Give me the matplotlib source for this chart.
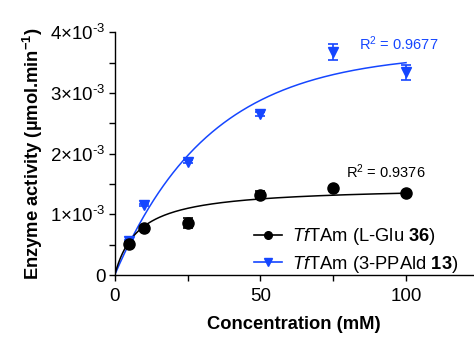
import numpy as np
import matplotlib.pyplot as plt
from matplotlib.ticker import FuncFormatter, MultipleLocator

plt.rcParams['font.family'] = 'Liberation Sans'
plt.rcParams['mathtext.fontset'] = 'custom'
plt.rcParams['mathtext.rm'] = 'Liberation Sans'
plt.rcParams['mathtext.it'] = 'Liberation Sans:italic'
plt.rcParams['mathtext.bf'] = 'Liberation Sans:bold'

# data (mM, umol/min)
conc = [5, 10, 25, 50, 75, 100]
glu_act = [0.52e-3, 0.77e-3, 0.86e-3, 1.32e-3, 1.43e-3, 1.35e-3]
glu_err = [0.02e-3, 0.02e-3, 0.08e-3, 0.07e-3, 0.02e-3, 0.02e-3]
ppald_act = [0.56e-3, 1.15e-3, 1.87e-3, 2.65e-3, 3.68e-3, 3.34e-3]
ppald_err = [0.02e-3, 0.02e-3, 0.03e-3, 0.03e-3, 0.135e-3, 0.12e-3]

# fit parameters
glu_vmax, glu_km = 1.46e-3, 8.2
ppald_ymax, ppald_k = 3.67e-3, 0.0307
glu_r2 = "0.9376"
ppald_r2 = "0.9677"

blue = "#1546ff"

fig = plt.figure(figsize=(4.74, 3.40), dpi=100)
ax = fig.add_axes([0.242, 0.191, 0.756, 0.714])

xs = np.linspace(0, 100, 300)
ax.plot(xs, ppald_ymax * (1 - np.exp(-ppald_k * xs)), color=blue, lw=1.1)
ax.errorbar(conc, ppald_act, yerr=ppald_err, fmt='v', color=blue, ms=7.5,
            capsize=3.5, elinewidth=1.2, capthick=1.2)
ax.plot(xs, glu_vmax * xs / (glu_km + xs), color='black', lw=1.1)
ax.errorbar(conc, glu_act, yerr=glu_err, fmt='o', color='black', ms=8,
            capsize=3.5, elinewidth=1.2, capthick=1.2)

# legend handles
h1, = ax.plot([], [], '-o', color='black', ms=5.5, lw=1.2)
h2, = ax.plot([], [], '-v', color=blue, ms=5.5, lw=1.2)
fig.legend([h1, h2],
           [r"$\it{Tf}$TAm (L-Glu $\bf{36}$)", r"$\it{Tf}$TAm (3-PPAld $\bf{13}$)"],
           loc='upper left', bbox_to_anchor=(0.535, 0.335), frameon=False,
           fontsize=13.2, handlelength=1.55, handletextpad=0.55,
           labelspacing=0.35, borderpad=0, borderaxespad=0)

ax.text(97.4, 3.82e-3, "R$^2$ = " + ppald_r2, color=blue, fontsize=10.5,
        ha='center', va='center')
ax.text(93, 1.70e-3, "R$^2$ = " + glu_r2, color='black', fontsize=10.5,
        ha='center', va='center')

ax.set_xlim(0, 123)
ax.set_ylim(0, 4e-3)
ax.xaxis.set_major_locator(MultipleLocator(50))
ax.xaxis.set_minor_locator(MultipleLocator(25))
ax.yaxis.set_major_locator(MultipleLocator(1e-3))
ax.yaxis.set_minor_locator(MultipleLocator(0.5e-3))


def yfmt(v, pos):
    n = int(round(v * 1e3))
    if n == 0:
        return "0"
    return "%d×10$^{\\text{-3}}$" % n


ax.yaxis.set_major_formatter(FuncFormatter(yfmt))
for s in ['top', 'right']:
    ax.spines[s].set_visible(False)
for s in ['left', 'bottom']:
    ax.spines[s].set_linewidth(1.0)
ax.tick_params(which='both', length=4.5, width=1.0, labelsize=13.5)
ax.tick_params(axis='x', pad=5)
ax.tick_params(axis='y', pad=2)

ax.set_xlabel("Concentration (mM)", fontsize=13.2, fontweight='bold', labelpad=8)
ax.set_ylabel(r"Enzyme activity (µmol.min$^{\bf{-1}}$)", fontsize=13.2,
              fontweight='bold', labelpad=4)

fig.savefig("out.png", dpi=100)
